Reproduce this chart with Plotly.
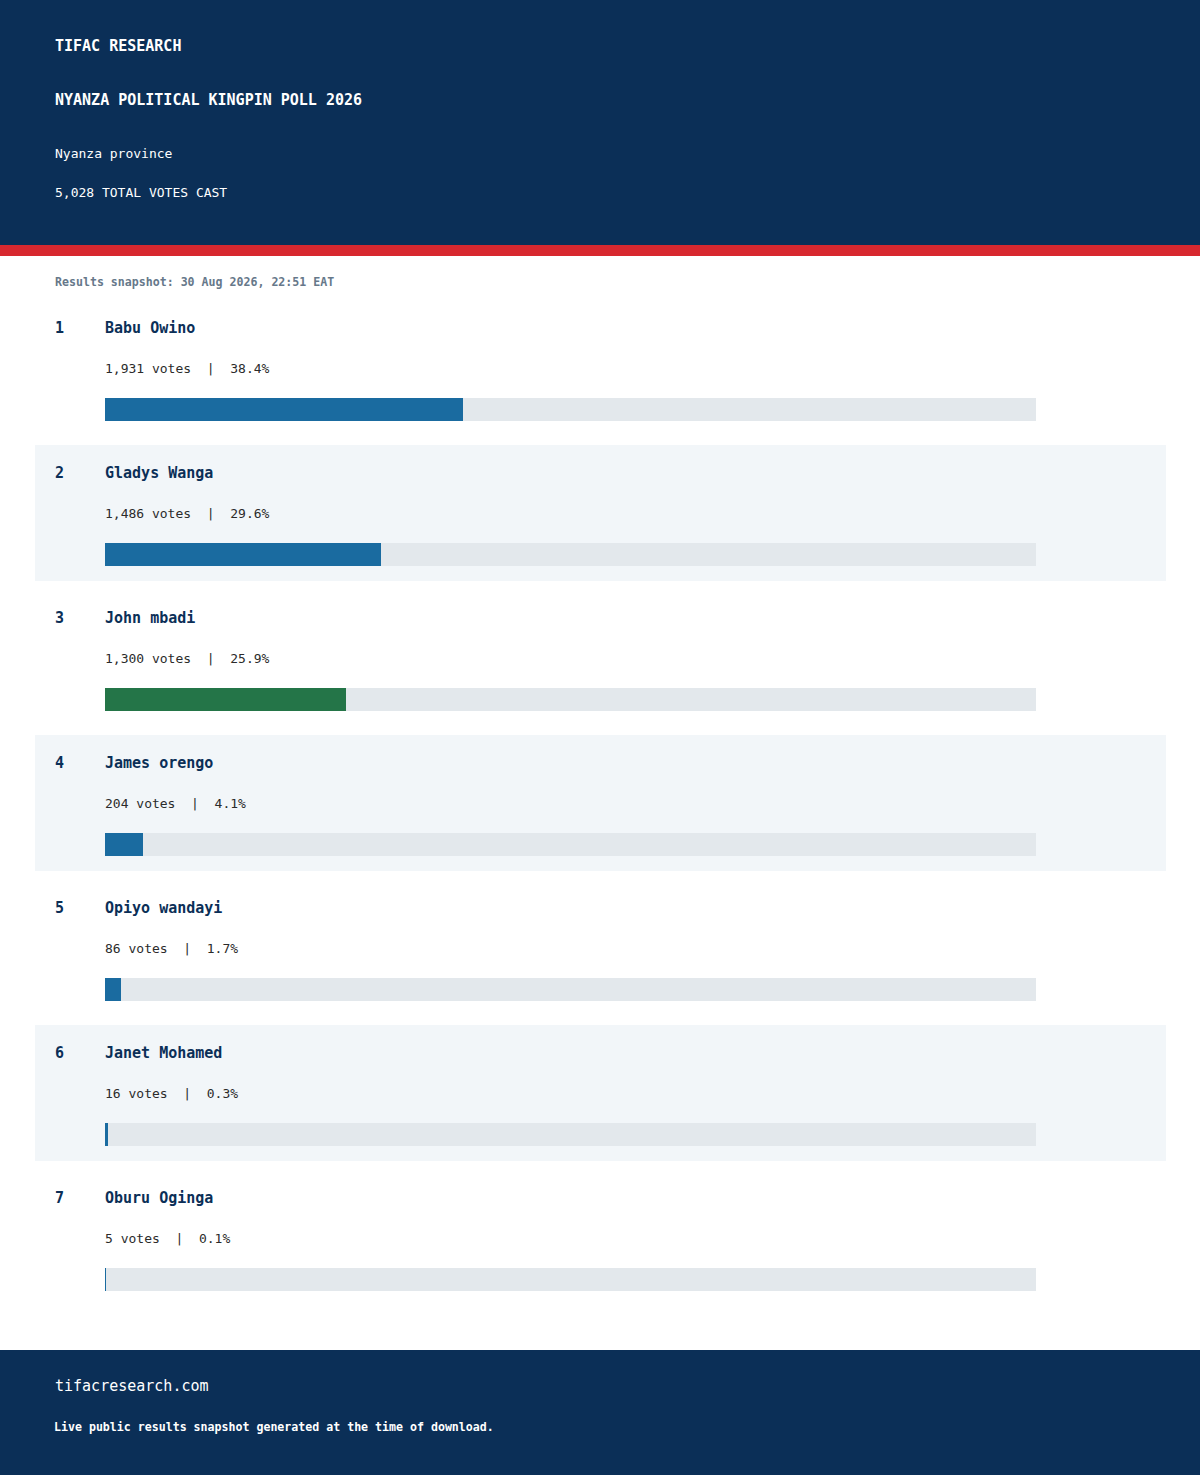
"""
Nyanza political kingpin poll - results snapshot card rebuilt in Plotly.
"""
import plotly.graph_objects as go

# region Data
RANKS = [1, 2, 3, 4, 5, 6, 7]
NAMES = ["Babu Owino", "Gladys Wanga", "John mbadi", "James orengo",
         "Opiyo wandayi", "Janet Mohamed", "Oburu Oginga"]
VOTES = [1931, 1486, 1300, 204, 86, 16, 5]
PCT = [38.4, 29.6, 25.9, 4.1, 1.7, 0.3, 0.1]
TOTAL_VOTES = 5028
# endregion

# region Style
W, H = 1200, 1475
NAVY = "#0b2f57"
RED = "#d7282f"
BLUE = "#1a6ba0"
GREEN = "#247548"
TRACK = "#e3e8ec"
ROW_BG = "#f2f6f9"
TEXT_DARK = "#2b2b2b"
GREY = "#66788a"
MONO = "DejaVu Sans Mono, Liberation Mono, monospace"
BAR_COLORS = [BLUE, BLUE, GREEN, BLUE, BLUE, BLUE, BLUE]

ROW_PX = 145.0          # vertical pitch of one candidate row
FIRST_BAR_PX = 409.5    # centre of the first bar in page pixels
Y_TOP = -FIRST_BAR_PX / ROW_PX
Y_BOTTOM = (H - FIRST_BAR_PX) / ROW_PX
BAR_W = 23 / ROW_PX
NAME_OFF = (328 - FIRST_BAR_PX) / ROW_PX
VOTE_OFF = (368 - FIRST_BAR_PX) / ROW_PX
BG_TOP = (445 - 554.5) / ROW_PX
BG_BOT = (581 - 554.5) / ROW_PX


def py(px):
    return 1 - px / H
# endregion

idx = list(range(len(NAMES)))

fig = go.Figure()

# grey track behind each bar
fig.add_trace(go.Bar(
    x=[100] * len(idx), y=idx, orientation="h", width=BAR_W,
    marker=dict(color=TRACK, line=dict(width=0)),
    hoverinfo="skip", showlegend=False,
))
# share of the vote
fig.add_trace(go.Bar(
    x=PCT, y=idx, orientation="h", width=BAR_W,
    marker=dict(color=BAR_COLORS, line=dict(width=0)),
    hoverinfo="skip", showlegend=False,
))

shapes = [
    dict(type="rect", xref="paper", yref="paper", x0=0, x1=1,
         y0=py(245), y1=1, fillcolor=NAVY, line_width=0, layer="below"),
    dict(type="rect", xref="paper", yref="paper", x0=0, x1=1,
         y0=py(256), y1=py(245), fillcolor=RED, line_width=0, layer="below"),
    dict(type="rect", xref="paper", yref="paper", x0=0, x1=1,
         y0=0, y1=py(1350), fillcolor=NAVY, line_width=0, layer="below"),
]
for i in idx:
    if i % 2 == 1:
        shapes.append(dict(
            type="rect", xref="paper", yref="y",
            x0=35 / W, x1=1166 / W, y0=i + BG_TOP, y1=i + BG_BOT,
            fillcolor=ROW_BG, line_width=0, layer="below",
        ))

NB = "\u00a0"
annotations = []


def paper_text(text, x_px, y_px, size, color, weight="normal"):
    annotations.append(dict(
        text=text, xref="paper", yref="paper", x=x_px / W, y=py(y_px),
        xanchor="left", yanchor="middle", showarrow=False,
        font=dict(family=MONO, size=size, color=color, weight=weight),
    ))


paper_text("TIFAC RESEARCH", 53, 46, 15, "white", "bold")
paper_text("NYANZA POLITICAL KINGPIN POLL 2026", 53, 100, 15, "white", "bold")
paper_text("Nyanza province", 53, 153, 13, "white")
paper_text(f"{TOTAL_VOTES:,} TOTAL VOTES CAST", 53, 193, 13, "white")
paper_text("Results snapshot: 30 Aug 2026, 22:51 EAT", 53, 282, 11.6, GREY, "bold")
paper_text("tifacresearch.com", 53, 1386, 15, "white")
paper_text("Live public results snapshot generated at the time of download.",
           52, 1427, 11.6, "white", "bold")

for i, rank, name, v, p in zip(idx, RANKS, NAMES, VOTES, PCT):
    annotations.append(dict(
        text=str(rank), xref="paper", yref="y", x=53 / W, y=i + NAME_OFF,
        xanchor="left", yanchor="middle", showarrow=False,
        font=dict(family=MONO, size=15, color=NAVY, weight="bold"),
    ))
    annotations.append(dict(
        text=name, xref="paper", yref="y", x=103 / W, y=i + NAME_OFF,
        xanchor="left", yanchor="middle", showarrow=False,
        font=dict(family=MONO, size=15, color=NAVY, weight="bold"),
    ))
    line = f"{v:,} votes{NB * 2}|{NB * 2}{p:.1f}%"
    annotations.append(dict(
        text=line, xref="paper", yref="y", x=103 / W, y=i + VOTE_OFF,
        xanchor="left", yanchor="middle", showarrow=False,
        font=dict(family=MONO, size=13, color=TEXT_DARK),
    ))

fig.update_layout(
    width=W, height=H,
    margin=dict(l=0, r=0, t=0, b=0),
    paper_bgcolor="white", plot_bgcolor="rgba(0,0,0,0)",
    barmode="overlay", bargap=0,
    showlegend=False,
    shapes=shapes,
    annotations=annotations,
    xaxis=dict(domain=[105 / W, 1036 / W], range=[0, 100], visible=False,
               fixedrange=True),
    yaxis=dict(domain=[0, 1], range=[Y_BOTTOM, Y_TOP], visible=False,
               fixedrange=True),
)

# drop the default body margin so the card sits flush in the window
fig.write_html(
    "out.html",
    config=dict(displayModeBar=False),
    post_script="document.body.style.margin='0';document.body.style.overflow='hidden';",
)
